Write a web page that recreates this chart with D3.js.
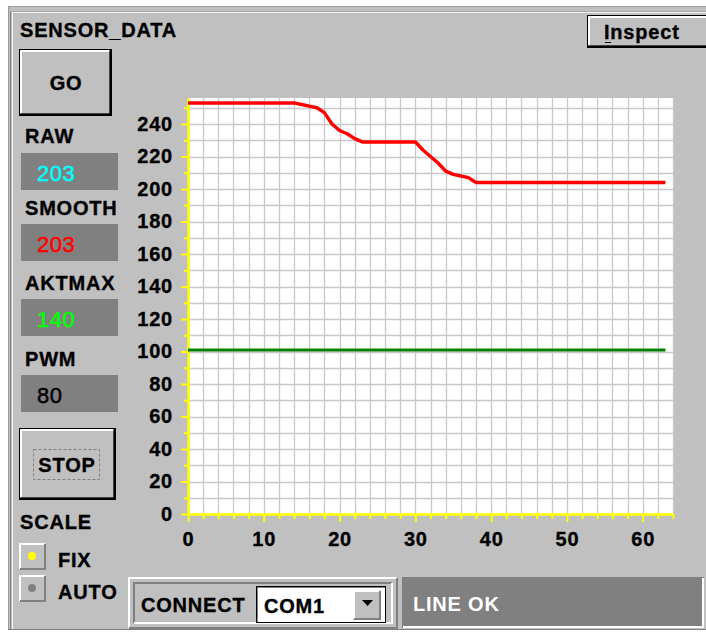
<!DOCTYPE html>
<html>
<head>
<meta charset="utf-8">
<script src="https://cdn.jsdelivr.net/npm/d3@7"></script>
<style>
  body { margin: 0; background: #fff; }
  svg text { font-family: "Liberation Sans", Arial, sans-serif; font-weight: bold; letter-spacing: 0.8px; }
  svg text.heavy { stroke: currentColor; stroke-width: 0.35px; }
</style>
</head>
<body>
<div id="container"></div>
<script>
// sample values (index = sample number)
var smoothValues = [
  253, 253, 253, 253, 253, 253, 253, 253, 253, 253, 253, 253, 253, 253, 253,
  252, 251, 250, 247, 240, 236, 234, 231,
  229, 229, 229, 229, 229, 229, 229, 229,
  224, 220, 216, 211, 209, 208, 207, 204,
  204, 204, 204, 204, 204, 204, 204, 204, 204, 204, 204, 204, 204, 204, 204, 204,
  204, 204, 204, 204, 204, 204, 204, 204, 204
];
var limitValue = 101;
var yMajorTicks = [0, 20, 40, 60, 80, 100, 120, 140, 160, 180, 200, 220, 240];
var xMajorTicks = [0, 10, 20, 30, 40, 50, 60];
var readoutLabels = ["RAW", "SMOOTH", "AKTMAX", "PWM"];
var readoutValues = ["203", "203", "140", "80"];
var scaleOptions = ["FIX", "AUTO"];
var portName = "COM1";
var statusText = "LINE OK";

var W = 706, H = 632;
var margin = {top: 98, right: 33, bottom: 118, left: 188},
    width = W - margin.left - margin.right,
    height = H - margin.top - margin.bottom;

var svg = d3.select("#container").append("svg")
    .attr("width", W)
    .attr("height", H);

// window frame
svg.append("rect").attr("width", W).attr("height", H).attr("fill", "#fff");
svg.append("rect").attr("x", 8).attr("y", 6).attr("width", W - 8).attr("height", 624).attr("fill", "#c0c0c0");
function hline(x1, x2, y, c) { svg.append("line").attr("x1", x1).attr("x2", x2).attr("y1", y).attr("y2", y).attr("stroke", c).attr("stroke-width", 1); }
function vline(x, y1, y2, c) { svg.append("line").attr("x1", x).attr("x2", x).attr("y1", y1).attr("y2", y2).attr("stroke", c).attr("stroke-width", 1); }
hline(8, W, 6.5, "#9a9a9a");
vline(8.5, 6, 630, "#9a9a9a");
vline(10.5, 12, 630, "#808080");
vline(12.5, 12, 630, "#f4f4f4");
hline(10, W, 11.5, "#a8a8a8");
hline(12, W, 12.5, "#f0f0f0");
hline(8, W, 629.5, "#808080");

// bevelled box helper
function bevel(x, y, w, h, raised, outline, fill) {
  var g = svg.append("g");
  g.append("rect").attr("x", x).attr("y", y).attr("width", w).attr("height", h).attr("fill", fill || "#c0c0c0");
  var hi = raised ? "#ffffff" : "#808080", lo = raised ? "#808080" : "#ffffff";
  var o = 0;
  if (outline) {
    g.append("rect").attr("x", x + 0.5).attr("y", y + 0.5).attr("width", w - 1).attr("height", h - 1)
      .attr("fill", "none").attr("stroke", "#000");
    o = 1;
  }
  g.append("path").attr("d", "M" + (x + o + 1) + "," + (y + h - o - 1) + "V" + (y + o + 1) + "H" + (x + w - o - 1))
    .attr("fill", "none").attr("stroke", hi).attr("stroke-width", 2);
  g.append("path").attr("d", "M" + (x + o + 1) + "," + (y + h - o - 1) + "H" + (x + w - o - 1) + "V" + (y + o + 1))
    .attr("fill", "none").attr("stroke", lo).attr("stroke-width", 2);
  if (outline) {
    g.append("path").attr("d", "M" + (x + 1) + "," + (y + h - 1.5) + "H" + (x + w - 1.5) + "V" + (y + 1))
      .attr("fill", "none").attr("stroke", "#000").attr("stroke-width", 2);
  }
  return g;
}

function label(x0, y0, txt) {
  return svg.append("text").attr("class", "heavy").attr("x", x0).attr("y", y0)
    .attr("font-size", 20).attr("fill", "#000").style("color", "#000").text(txt);
}

// title and Inspect button
label(20, 37, "SENSOR_DATA");
bevel(587, 15, 122, 33, true, true);
label(604, 39, "Inspect");
hline(605, 611, 42.5, "#000");

// GO button
bevel(19, 49, 93, 67, true, true);
label(66, 90, "GO").attr("text-anchor", "middle");

// readouts
var labelY = [143, 215, 290, 366];
var boxY = [153, 224, 299, 375];
var valueColors = ["#00ffff", "#ff0000", "#00ff00", "#000000"];
readoutLabels.forEach(function(lab, i) {
  label(25, labelY[i], lab);
  svg.append("rect").attr("x", 21).attr("y", boxY[i]).attr("width", 97).attr("height", 37).attr("fill", "#808080");
  svg.append("text").attr("x", 37).attr("y", boxY[i] + 28).attr("font-size", 22)
    .style("font-weight", "normal").style("letter-spacing", "0.5px")
    .style("stroke", valueColors[i]).style("stroke-width", "0.5px")
    .attr("fill", valueColors[i]).text(readoutValues[i]);
});

// STOP button with focus rect
bevel(19, 428, 97, 72, true, true);
svg.append("rect").attr("x", 33.5).attr("y", 449.5).attr("width", 66).attr("height", 30)
  .attr("fill", "none").attr("stroke", "#808080").attr("stroke-dasharray", "3,2");
label(67, 472, "STOP").attr("text-anchor", "middle");

// SCALE radio group
label(20, 529, "SCALE");
var dotColors = ["#ffff00", "#808080"];
scaleOptions.forEach(function(opt, i) {
  var by = 543 + i * 32;
  bevel(19, by, 27, 27, true, false);
  svg.append("circle").attr("cx", 32).attr("cy", by + 13).attr("r", 4).attr("fill", dotColors[i]);
  label(58, by + 24, opt);
});

// CONNECT panel
bevel(128, 577, 270, 52, true, false);
bevel(133, 582, 260, 42, false, false);
label(141, 612, "CONNECT");
svg.append("rect").attr("x", 256.5).attr("y", 586.5).attr("width", 129).attr("height", 36)
  .attr("fill", "#fff").attr("stroke", "#000");
vline(257.5, 587, 622, "#808080"); hline(257, 385, 587.5, "#808080");
label(264, 613, portName);
bevel(353, 590, 28, 30, true, false);
svg.append("path").attr("d", "M362,600H373L367.5,606Z").attr("fill", "#000");

// status panel
bevel(402, 577, 302, 51, false, false, "#808080");
svg.append("text").attr("x", 413).attr("y", 611).attr("font-size", 20).attr("fill", "#fff").text(statusText);

// ---- chart ----
var chart = svg.append("g")
    .attr("transform", "translate(" + margin.left + "," + margin.top + ")");

var x = d3.scaleLinear().domain([0, 64]).range([0, width]);
var y = d3.scaleLinear().domain([0, 256]).range([height, 0]);

chart.append("rect").attr("width", width).attr("height", height).attr("fill", "#fff");

// grid
chart.append("g").selectAll("line")
    .data(x.ticks(32))
  .enter().append("line")
    .attr("x1", function(d) { return Math.round(x(d)) + 0.5; })
    .attr("x2", function(d) { return Math.round(x(d)) + 0.5; })
    .attr("y1", 0).attr("y2", height)
    .attr("stroke", "#c8c8c8").attr("stroke-width", 1.3);
chart.append("g").selectAll("line")
    .data(d3.range(10, 251, 10))
  .enter().append("line")
    .attr("y1", function(d) { return Math.round(y(d)) + 0.5; })
    .attr("y2", function(d) { return Math.round(y(d)) + 0.5; })
    .attr("x1", 0).attr("x2", width)
    .attr("stroke", "#c8c8c8").attr("stroke-width", 1.3);

// axes
function styleAxis(g) {
  g.select(".domain").attr("stroke", "#ffff00").attr("stroke-width", 2);
  g.selectAll(".tick line").attr("stroke", "#ffff00").attr("stroke-width", 2);
  g.selectAll(".tick text").attr("fill", "#000").attr("font-size", 20)
    .attr("class", "heavy").style("color", "#000")
    .style("font-family", '"Liberation Sans", Arial, sans-serif').style("font-weight", "bold");
}
chart.append("g")
    .call(d3.axisLeft(y).tickValues(d3.range(10, 251, 20)).tickSize(4).tickSizeOuter(0).tickFormat(""))
    .call(styleAxis);
chart.append("g")
    .call(d3.axisLeft(y).tickValues(yMajorTicks).tickSize(7).tickSizeOuter(0).tickPadding(8))
    .call(styleAxis);
chart.append("g")
    .attr("transform", "translate(0," + height + ")")
    .call(d3.axisBottom(x).tickValues(x.ticks(32).filter(function(d) { return d % 10 !== 0; })).tickSize(5).tickSizeOuter(0).tickFormat(""))
    .call(styleAxis);
chart.append("g")
    .attr("transform", "translate(0," + height + ")")
    .call(d3.axisBottom(x).tickValues(xMajorTicks).tickSize(8).tickSizeOuter(0).tickPadding(10))
    .call(styleAxis);

// series
var line = d3.line()
    .x(function(d, i) { return x(i); })
    .y(function(d) { return y(d); });

chart.append("path")
    .datum([limitValue, limitValue])
    .attr("fill", "none").attr("stroke", "#008000").attr("stroke-width", 3)
    .attr("d", d3.line().x(function(d, i) { return x(i * (smoothValues.length - 1)); }).y(function(d) { return y(d); }));

chart.append("path")
    .datum(smoothValues)
    .attr("fill", "none").attr("stroke", "#ff0000").attr("stroke-width", 3.5)
    .attr("stroke-linejoin", "round")
    .attr("d", line);
</script>
</body>
</html>
